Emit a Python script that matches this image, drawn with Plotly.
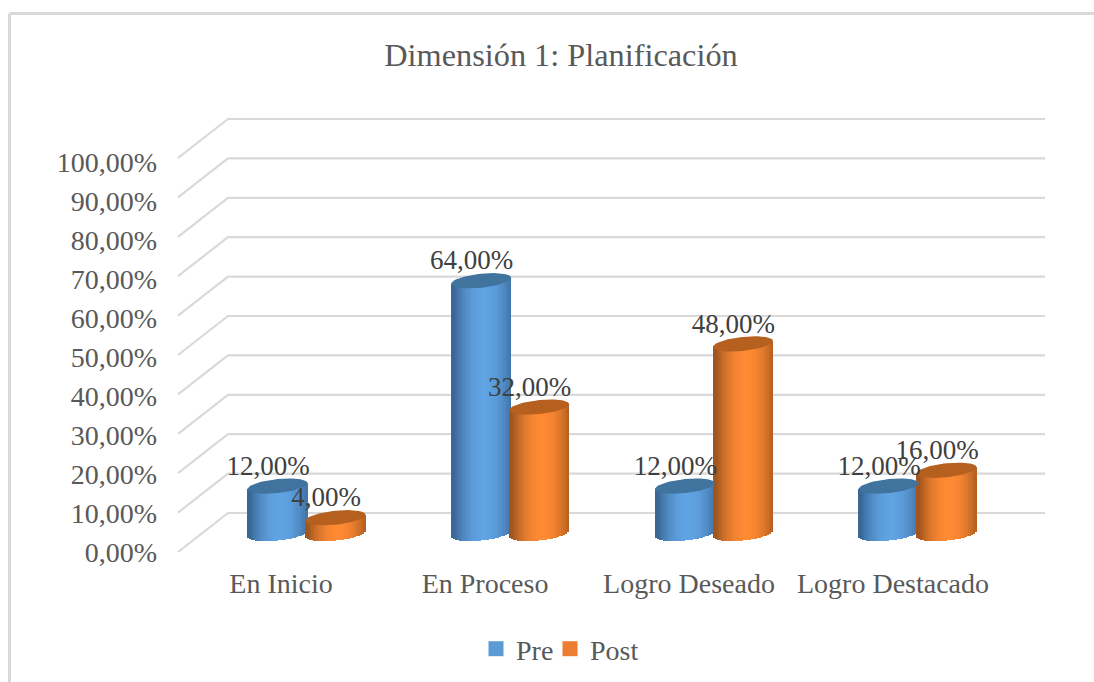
import numpy as np
import plotly.graph_objects as go

# ---- data ----
categories = ["En Inicio", "En Proceso", "Logro Deseado", "Logro Destacado"]
pre_values = [12, 64, 12, 12]
post_values = [4, 32, 48, 16]
axis_ticks = list(range(0, 101, 10))
series_names = ["Pre", "Post"]

# ---- styles ----
W, H = 1094, 682
ML, MR, MT, MB = 165, 40, 100, 130
FONT = "Liberation Serif"
TXT = "#595959"
LBL = "#404040"
GRID = "#d9d9d9"
BRIGHT = {"Pre": (96, 164, 228), "Post": (255, 138, 52)}
DARK = {"Pre": (58, 104, 150), "Post": (160, 86, 30)}
CAP = {"Pre": "#41739f", "Post": "#b5601f"}
SWATCH = {"Pre": "#5b9bd5", "Post": "#ed7d31"}
LEGEND_ID = {"Pre": "legend", "Post": "legend2"}

PW, PH = W - ML - MR, H - MT - MB
def fx(px): return (px - ML) / PW
def fy(py): return 1 - (py - MT) / PH

# label axes: 0 % at the foot of the front edge
Y_SCALE = 3.90
CAT_X0, CAT_DX = 281, 204
# bar axes
BAR_Y0, BAR_SCALE = 533.5, 3.95
BAR_X0, BAR_DX = 306.5, 203.7
HALF_W, RY, TILT = 30.0, 7.0, 3.0
N_STRIPS = 30
LABEL_DX, LABEL_DY = -9.5, 18

GROUP_OFF = 29.0 / BAR_DX
ux = HALF_W / BAR_DX
uy_r, uy_t = RY / BAR_SCALE, TILT / BAR_SCALE

fig = go.Figure()

# perspective gridlines, on the label axes (below the bars)
GRID_SCALE = 3.94
FRONT_X = (178 - CAT_X0) / CAT_DX
BACK_X = (228 - CAT_X0) / CAT_DX
RIGHT_X = (1045 - CAT_X0) / CAT_DX
FRONT_FOOT, BACK_FOOT = 552, 513
for t in axis_ticks:
    front_y = (H - MB - (FRONT_FOOT - GRID_SCALE * t)) / Y_SCALE
    back_y = (H - MB - (BACK_FOOT - GRID_SCALE * t)) / Y_SCALE
    fig.add_trace(go.Scatter(
        x=[FRONT_X, BACK_X, RIGHT_X],
        y=[front_y, back_y, back_y],
        mode="lines", line=dict(color=GRID, width=2.2),
        showlegend=False, hoverinfo="skip", xaxis="x", yaxis="y"))

# legend entries
for name in series_names:
    fig.add_trace(go.Scatter(
        x=[None], y=[None], mode="markers", name=name, legend=LEGEND_ID[name],
        showlegend=True,
        marker=dict(symbol="square", size=15, color=SWATCH[name]),
        xaxis="x2", yaxis="y2"))

def shade(name, t):
    f = 1 - abs(t - 0.1) ** 2.0
    f = max(0.0, min(1.0, f))
    c = [DARK[name][k] + (BRIGHT[name][k] - DARK[name][k]) * f for k in range(3)]
    return "rgb(%d,%d,%d)" % tuple(c)

series = [("Pre", pre_values, -GROUP_OFF), ("Post", post_values, GROUP_OFF)]
idx = np.arange(len(categories), dtype=float)

# cylinder bodies: vertical strips of bars whose foot follows the lower ellipse
for name, vals, off in series:
    vals_a = np.array(vals, dtype=float)
    for s in range(N_STRIPS):
        t = -1 + (2 * s + 1) / N_STRIPS
        foot = t * uy_t - uy_r * np.sqrt(1 - t * t)
        head = vals_a + t * uy_t
        fig.add_trace(go.Bar(
            x=idx + off + t * ux, y=head - foot, base=foot,
            width=2.3 * ux / N_STRIPS,
            marker=dict(color=shade(name, t), line=dict(width=0)),
            showlegend=False, hoverinfo="skip", xaxis="x2", yaxis="y2"))

# caps
ang = np.linspace(0, 2 * np.pi, 73)
for name, vals, off in series:
    for i, v in enumerate(vals):
        fig.add_trace(go.Scatter(
            x=i + off + ux * np.cos(ang),
            y=v + uy_r * np.sin(ang) + uy_t * np.cos(ang),
            mode="lines", fill="toself", fillcolor=CAP[name],
            line=dict(width=0, color=CAP[name]),
            showlegend=False, hoverinfo="skip", xaxis="x2", yaxis="y2"))

# value labels
for name, vals, off in series:
    fig.add_trace(go.Scatter(
        x=idx + off + LABEL_DX / BAR_DX,
        y=np.array(vals, dtype=float) + LABEL_DY / BAR_SCALE,
        text=[f"{v:.2f}".replace(".", ",") + "%" for v in vals],
        mode="text", textposition="middle center",
        textfont=dict(family=FONT, size=27, color=LBL),
        showlegend=False, hoverinfo="skip", xaxis="x2", yaxis="y2"))

# chart-area frame
frame = dict(type="line", xref="paper", yref="paper", layer="below",
             line=dict(color="#d9d9d9", width=3))
shapes = [
    dict(frame, x0=fx(9.5), x1=fx(9.5), y0=fy(13.5), y1=fy(682)),
    dict(frame, x0=fx(9.5), x1=fx(1094), y0=fy(13.5), y1=fy(13.5)),
]

legend_style = dict(orientation="h", xref="container", yref="container",
                    xanchor="left", y=1 - 649 / H, yanchor="middle",
                    font=dict(family=FONT, size=28, color=TXT),
                    bgcolor="rgba(0,0,0,0)", itemclick=False, itemdoubleclick=False)

fig.update_layout(
    width=W, height=H, margin=dict(l=ML, r=MR, t=MT, b=MB, pad=0),
    paper_bgcolor="white", plot_bgcolor="white",
    barmode="overlay", bargap=0, shapes=shapes,
    font=dict(family=FONT, size=27, color=TXT),
    title=dict(text="Dimensión 1: Planificación", x=561 / W, xref="container",
               xanchor="center", y=1 - 55 / H, yanchor="middle", yref="container",
               font=dict(family=FONT, size=32.3, color=TXT)),
    xaxis=dict(range=[(ML - CAT_X0) / CAT_DX, (W - MR - CAT_X0) / CAT_DX],
               tickmode="array", tickvals=list(range(len(categories))),
               ticktext=categories, showgrid=False, zeroline=False, showline=False,
               ticks="", ticklabelstandoff=12,
               tickfont=dict(family=FONT, size=28, color=TXT)),
    yaxis=dict(range=[0, PH / Y_SCALE], tickmode="array", tickvals=axis_ticks,
               ticktext=[f"{t:.2f}".replace(".", ",") + "%" for t in axis_ticks],
               showgrid=False, zeroline=False, showline=False, ticks="",
               ticklabelstandoff=7,
               tickfont=dict(family=FONT, size=28, color=TXT)),
    xaxis2=dict(range=[(ML - BAR_X0) / BAR_DX, (W - MR - BAR_X0) / BAR_DX],
                overlaying="x", side="top", visible=False),
    yaxis2=dict(range=[(BAR_Y0 - (H - MB)) / BAR_SCALE, (BAR_Y0 - MT) / BAR_SCALE],
                overlaying="y", side="right", visible=False),
    legend=dict(legend_style, x=476 / W),
    legend2=dict(legend_style, x=550 / W),
)

fig.write_html("out.html", config=dict(displayModeBar=False),
               post_script="document.body.style.margin='0';document.documentElement.style.overflow='hidden';")
